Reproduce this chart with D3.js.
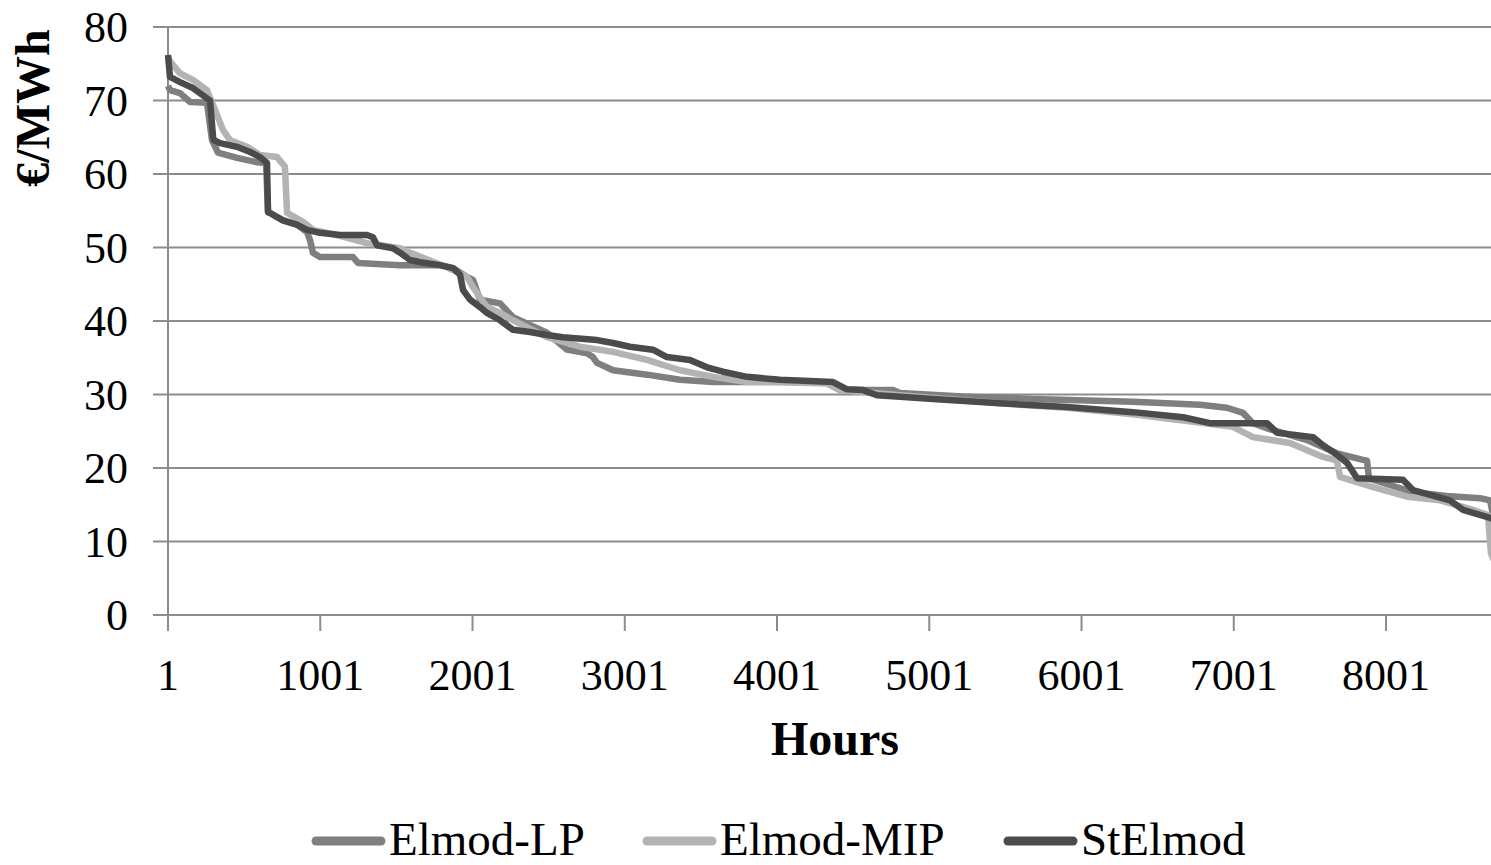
<!DOCTYPE html>
<html>
<head>
<meta charset="utf-8">
<script src="https://cdn.jsdelivr.net/npm/d3@7"></script>
<style>
  html, body { margin: 0; padding: 0; background: #fff; }
  svg { display: block; }
  text { font-family: "Liberation Serif", "Times New Roman", serif; fill: #000; }
</style>
</head>
<body>
<svg id="chart" width="1491" height="865"></svg>
<script>
// ---- Data (hour, €/MWh) ----
const seriesNames = ["Elmod-LP", "Elmod-MIP", "StElmod"];
const yTicks = [0, 10, 20, 30, 40, 50, 60, 70, 80];
const xTicks = [1, 1001, 2001, 3001, 4001, 5001, 6001, 7001, 8001];

const elmodLP = [[1,72.0],[14,71.4],[80,71.0],[146,69.8],[257,69.7],[290,64.6],[329,62.9],[454,62.2],[586,61.6],[645,61.5],[658,54.8],[671,54.7],[756,53.7],[848,53.1],[914,52.1],[934,51.0],[953,49.3],[999,48.7],[1216,48.7],[1249,47.9],[1525,47.6],[1787,47.6],[1873,47.2],[1965,46.0],[2004,45.6],[2050,42.9],[2182,42.4],[2267,40.5],[2490,38.4],[2622,36.1],[2753,35.6],[2792,35.1],[2819,34.3],[2924,33.3],[3147,32.7],[3364,32.0],[3581,31.7],[4021,31.7],[4329,31.6],[4415,30.6],[4763,30.6],[4809,30.2],[5249,29.7],[5682,29.4],[6339,29.0],[6779,28.6],[6956,28.2],[7062,27.5],[7127,26.1],[7219,25.4],[7482,23.8],[7679,22.0],[7850,21.1],[7876,21.0],[7889,18.6],[8178,16.7],[8400,16.2],[8618,15.9],[8684,15.6],[8700,14.0],[8760,13.5]];

const elmodMIP = [[1,75.8],[34,74.8],[80,73.7],[165,72.8],[257,71.4],[310,68.7],[362,66.0],[408,64.6],[520,63.7],[605,62.6],[717,62.3],[769,61.0],[783,54.7],[888,53.5],[953,52.4],[1131,51.6],[1308,50.6],[1525,49.9],[1590,49.3],[1833,47.3],[1965,46.0],[2004,44.6],[2096,41.9],[2182,41.1],[2267,40.1],[2490,37.8],[2707,36.5],[2924,35.8],[3147,34.7],[3364,33.3],[3581,32.4],[3804,31.7],[4021,31.7],[4329,31.5],[4415,30.6],[4809,29.9],[5466,28.8],[5905,28.2],[6339,27.3],[6996,25.6],[7127,24.2],[7370,23.4],[7587,21.5],[7679,21.0],[7699,18.8],[7916,17.4],[8139,16.1],[8356,15.6],[8572,14.3],[8671,13.6],[8690,8.4],[8760,5.0]];

const stElmod = [[1,76.2],[14,73.2],[80,72.5],[165,71.7],[231,70.7],[277,70.0],[297,65.0],[303,64.6],[343,64.2],[454,63.7],[540,63.0],[605,62.3],[651,61.5],[658,54.8],[671,54.7],[756,53.7],[848,53.1],[914,52.4],[999,52.0],[1131,51.7],[1308,51.7],[1347,51.4],[1374,50.3],[1479,49.9],[1525,49.3],[1590,48.3],[1656,48.0],[1787,47.6],[1873,47.2],[1919,46.3],[1939,44.2],[1985,42.9],[2050,41.9],[2096,41.1],[2182,40.1],[2267,38.8],[2379,38.5],[2490,38.1],[2595,37.8],[2819,37.4],[2924,37.0],[3035,36.5],[3186,36.1],[3278,35.1],[3429,34.7],[3541,33.7],[3646,33.1],[3804,32.4],[4021,32.0],[4369,31.7],[4461,30.7],[4566,30.6],[4658,29.9],[4809,29.7],[5026,29.4],[5466,28.8],[5905,28.3],[6339,27.6],[6668,26.9],[6845,26.1],[7219,26.1],[7285,24.8],[7521,24.2],[7587,23.1],[7679,21.8],[7745,20.7],[7811,18.6],[8112,18.4],[8178,17.0],[8421,15.6],[8507,14.3],[8684,13.2],[8760,12.8]];

const seriesData = [elmodLP, elmodMIP, stElmod];
const seriesColors = ["#7f7f7f", "#b3b3b3", "#4b4b4b"];

// ---- Layout ----
const svg = d3.select("#chart");
const x = d3.scaleLinear().domain([1, 8760]).range([168, 1501.6]);
const y = d3.scaleLinear().domain([0, 80]).range([615, 27]);
const gridColor = "#8c8c8c";

// horizontal gridlines
svg.append("g").selectAll("line").data(yTicks).join("line")
  .attr("x1", 153).attr("x2", 1491)
  .attr("y1", d => y(d)).attr("y2", d => y(d))
  .attr("stroke", gridColor).attr("stroke-width", 2);

// y axis line
svg.append("line")
  .attr("x1", x(1)).attr("x2", x(1))
  .attr("y1", y(80)).attr("y2", y(0) + 16)
  .attr("stroke", gridColor).attr("stroke-width", 2);

// x axis ticks
svg.append("g").selectAll("line").data(xTicks).join("line")
  .attr("x1", d => x(d)).attr("x2", d => x(d))
  .attr("y1", y(0)).attr("y2", y(0) + 16)
  .attr("stroke", gridColor).attr("stroke-width", 2);

// y tick labels
svg.append("g").selectAll("text").data(yTicks).join("text")
  .attr("x", 128).attr("y", d => y(d) + 15)
  .attr("text-anchor", "end")
  .attr("font-size", 44)
  .text(d => d);

// x tick labels
svg.append("g").selectAll("text").data(xTicks).join("text")
  .attr("x", d => x(d)).attr("y", 690)
  .attr("text-anchor", "middle")
  .attr("font-size", 44)
  .text(d => d);

// axis titles
svg.append("text")
  .attr("x", 835).attr("y", 755)
  .attr("text-anchor", "middle")
  .attr("font-size", 48).attr("font-weight", "bold")
  .text("Hours");

svg.append("text")
  .attr("transform", "translate(49,108) rotate(-90)")
  .attr("text-anchor", "middle")
  .attr("font-size", 48).attr("font-weight", "bold")
  .text("€/MWh");

// lines
const line = d3.line().x(d => x(d[0])).y(d => y(d[1]));
svg.append("clipPath").attr("id", "plotclip")
  .append("rect").attr("x", 150).attr("y", 0).attr("width", 1341).attr("height", 640);

svg.append("g").attr("clip-path", "url(#plotclip)")
  .selectAll("path").data(seriesData).join("path")
  .attr("d", line)
  .attr("fill", "none")
  .attr("stroke", (d, i) => seriesColors[i])
  .attr("stroke-width", 6.5)
  .attr("stroke-linejoin", "round");

// legend
const legendX = [312, 643, 1004];
const leg = svg.append("g");
seriesNames.forEach((name, i) => {
  leg.append("line")
    .attr("x1", legendX[i] + 4).attr("x2", legendX[i] + 69)
    .attr("y1", 841).attr("y2", 841)
    .attr("stroke", seriesColors[i]).attr("stroke-width", 9)
    .attr("stroke-linecap", "round");
  leg.append("text")
    .attr("x", legendX[i] + 77).attr("y", 855)
    .attr("font-size", 47)
    .text(name);
});
</script>
</body>
</html>
